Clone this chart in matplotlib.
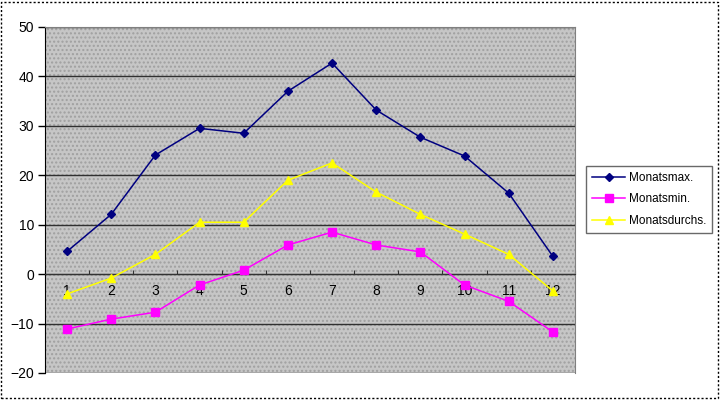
import numpy as np
import matplotlib.pyplot as plt
from matplotlib.patches import Rectangle

plt.rcParams['font.family'] = ['Liberation Sans', 'DejaVu Sans']

months = [1, 2, 3, 4, 5, 6, 7, 8, 9, 10, 11, 12]
monats_max = [4.6, 12.1, 24.1, 29.5, 28.5, 37.0, 42.7, 33.2, 27.7, 23.9, 16.4, 3.6]
monats_min = [-11.1, -9.1, -7.7, -2.2, 0.8, 5.9, 8.5, 5.9, 4.5, -2.2, -5.5, -11.7]
monats_durchs = [-4.0, -0.8, 4.0, 10.5, 10.5, 19.0, 22.5, 16.6, 12.1, 8.1, 4.0, -3.4]

fig = plt.figure(figsize=(7.2, 4.0), dpi=100)
ax = fig.add_axes([0.0625, 0.0675, 0.736, 0.865])

# Excel-like dotted grey plot area
ax.set_facecolor('#c6c6c6')
ax.add_patch(Rectangle((0, 0), 1, 1, transform=ax.transAxes, facecolor='none',
                       edgecolor='#a0a0a0', hatch='....', linewidth=0, zorder=0))

x = np.arange(len(months))
ax.plot(x, monats_max, color='#000080', marker='D', markersize=4.5, linewidth=1.1,
        label='Monatsmax.', zorder=4)
ax.plot(x, monats_min, color='#ff00ff', marker='s', markersize=6, linewidth=1.1,
        label='Monatsmin.', zorder=4)
ax.plot(x, monats_durchs, color='#ffff00', marker='^', markersize=6, linewidth=1.1,
        label='Monatsdurchs.', zorder=4)

ax.set_xlim(-0.5, len(months) - 0.5)
ax.set_ylim(-20, 50)
ax.set_yticks(range(-20, 51, 10))
ax.tick_params(axis='y', direction='out', length=5, width=1, labelsize=10, pad=3)

ax.spines['bottom'].set_position(('data', 0))
ax.spines['bottom'].set_color('#333333')
ax.set_xticks(np.arange(-0.5, len(months), 1.0))
ax.set_xticklabels([])
ax.tick_params(axis='x', which='major', direction='in', length=3, color='#333333')
ax.set_xticks(x, minor=True)
ax.set_xticklabels([str(m) for m in months], minor=True)
ax.tick_params(axis='x', which='minor', length=0, labelsize=10, pad=7)

ax.yaxis.grid(True, color='#303030', linewidth=1)
ax.set_axisbelow(True)
for s in ['top', 'right']:
    ax.spines[s].set_color('#808080')
ax.spines['left'].set_color('black')

leg = fig.legend(loc='upper left', bbox_to_anchor=(0.814, 0.585), fontsize=8.5,
                 frameon=True, fancybox=False, edgecolor='#444444',
                 handlelength=2.8, borderpad=0.5, labelspacing=0.8, handletextpad=0.3,
                 borderaxespad=0)
leg.get_frame().set_linewidth(1)

fig.patches.append(Rectangle((0.002, 0.004), 0.995, 0.992, transform=fig.transFigure,
                             fill=False, edgecolor='black', linestyle=(0, (1.5, 1.5)),
                             linewidth=1))

fig.savefig('out.png', dpi=100)
